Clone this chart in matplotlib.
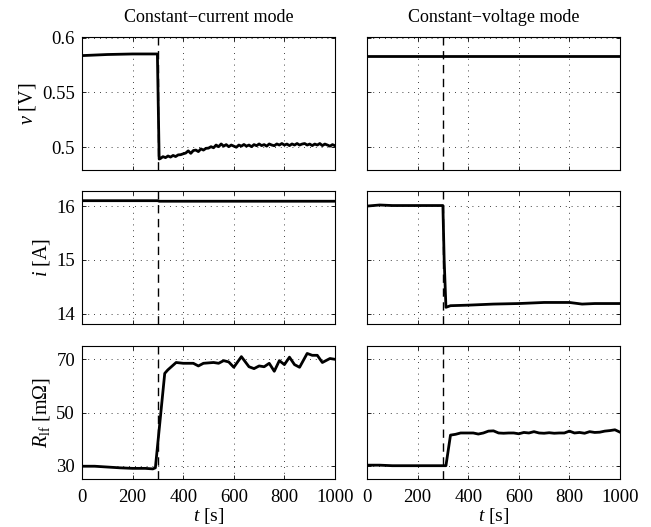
import numpy as np
import matplotlib
matplotlib.use("Agg")
import matplotlib.pyplot as plt

plt.rcParams['font.family'] = ['Liberation Serif', 'DejaVu Serif']
plt.rcParams['mathtext.fontset'] = 'custom'
plt.rcParams['mathtext.rm'] = 'Liberation Serif'
plt.rcParams['mathtext.it'] = 'Liberation Serif:italic'

# ---------------- data ----------------
col_titles = ["Constant\u2212current mode", "Constant\u2212voltage mode"]
ylabels = [r"$v$ [V]", r"$i$ [A]", r"$R_{\rm lf}$ [m$\Omega$]"]
xlabel = r"$t$ [s]"
step_time = 300
xticks = [0, 200, 400, 600, 800, 1000]
yticks_v = [0.5, 0.55, 0.6]
yticks_i = [14, 15, 16]
yticks_r = [30, 50, 70]

# CC voltage
t_v_cc_pre = [0, 100, 200, 298, 305]
v_cc_pre = [0.5835, 0.5845, 0.585, 0.585, 0.489]
t_v_cc_post = list(range(310, 1001, 10))
v_cc_post = [0.4895, 0.4912, 0.4903, 0.4918, 0.4908, 0.4923, 0.4913, 0.4928, 0.4930, 0.4938,
             0.4945, 0.4965, 0.4942, 0.4968, 0.4972, 0.4958, 0.4983, 0.4972, 0.4988, 0.4990,
             0.5003, 0.4993, 0.5018, 0.5003, 0.5028, 0.5008, 0.5022, 0.5003, 0.5018, 0.5008,
             0.4998, 0.5018, 0.5008, 0.5023, 0.5008, 0.5018, 0.5003, 0.5022, 0.5012, 0.5028,
             0.5013, 0.5022, 0.5008, 0.5028, 0.5018, 0.5012, 0.5028, 0.5018, 0.5032, 0.5018,
             0.5027, 0.5013, 0.5028, 0.5018, 0.5032, 0.5018, 0.5027, 0.5032, 0.5018, 0.5027,
             0.5013, 0.5027, 0.5018, 0.5032, 0.5013, 0.5027, 0.5018, 0.5008, 0.5022, 0.5012]

# CV voltage
t_v_cv = [0, 1000]
v_cv = [0.583, 0.583]

# CC current
t_i_cc = [0, 300, 305, 1000]
i_cc = [16.1, 16.1, 16.09, 16.09]

# CV current
t_i_cv = [0, 50, 100, 200, 300, 305, 312, 330, 400, 500, 600, 700, 800, 850, 900, 1000]
i_cv = [16.0, 16.02, 16.01, 16.01, 16.01, 15.0, 14.12, 14.15, 14.16, 14.18, 14.19, 14.21,
        14.21, 14.18, 14.19, 14.19]

# CC resistance
t_r_cc = [0, 50, 100, 150, 200, 250, 280, 290, 327, 339, 372, 400, 440, 460, 480, 520, 540,
          560, 580, 600, 630, 660, 680, 700, 720, 740, 760, 780, 800, 820, 840, 860, 890,
          910, 930, 950, 980, 1000]
r_cc = [29.8, 29.8, 29.5, 29.2, 29.0, 29.0, 28.8, 29.2, 64.7, 66.0, 68.8, 68.5, 68.5, 67.5,
        68.5, 68.8, 68.5, 69.5, 69.0, 67.0, 71.0, 67.2, 66.5, 67.5, 67.2, 68.5, 65.5, 69.5,
        68.0, 70.8, 68.0, 67.0, 72.2, 71.5, 71.5, 68.8, 70.3, 70.0]

# CV resistance
t_r_cv = [0, 50, 100, 150, 200, 250, 300, 312, 330, 350, 370, 400, 420, 440, 460, 480, 500,
          520, 540, 560, 580, 600, 620, 640, 660, 680, 700, 720, 740, 760, 780, 800, 820,
          840, 860, 880, 900, 920, 940, 960, 980, 1000]
r_cv = [30.2, 30.2, 30.0, 30.0, 30.0, 30.0, 30.0, 30.0, 41.5, 41.8, 42.3, 42.3, 42.3, 41.9,
        42.3, 43.0, 43.1, 42.3, 42.2, 42.3, 42.3, 42.0, 42.5, 42.3, 42.8, 42.3, 42.2, 42.4,
        42.2, 42.3, 42.3, 43.0, 42.3, 42.5, 42.2, 42.8, 42.5, 42.6, 43.0, 43.2, 43.5, 42.6]

# ---------------- figure ----------------
W, H = 651, 527
fig = plt.figure(figsize=(W / 100, H / 100), dpi=100)

lefts = [82, 367]
width = 253
rows = [(37, 170), (191, 324), (346, 479)]
ylims = [(0.479, 0.6005), (13.81, 16.28), (25.0, 75.0)]
yticks_all = [yticks_v, yticks_i, yticks_r]
ytl = [["0.5", "0.55", "0.6"], ["14", "15", "16"], ["30", "50", "70"]]

series = [
    [[(t_v_cc_pre + t_v_cc_post, v_cc_pre + v_cc_post)], [(t_v_cv, v_cv)]],
    [[(t_i_cc, i_cc)], [(t_i_cv, i_cv)]],
    [[(t_r_cc, r_cc)], [(t_r_cv, r_cv)]],
]

fs = 13.5
for r, (top, bot) in enumerate(rows):
    for c in range(2):
        ax = fig.add_axes([lefts[c] / W, 1 - bot / H, width / W, (bot - top) / H])
        for (tt, yy) in series[r][c]:
            ax.plot(tt, yy, color='black', lw=2.0, zorder=3)
        ax.axvline(step_time, color='black', lw=1.0, dashes=(6, 4), zorder=2)
        ax.set_xlim(0, 1000)
        ax.set_ylim(*ylims[r])
        ax.set_xticks(xticks)
        ax.set_yticks(yticks_all[r])
        ax.grid(True, color='black', linestyle=(0, (1, 6)), lw=0.6)
        ax.tick_params(direction='in', length=3, width=0.6, top=True, right=True,
                       labelsize=fs, pad=5)
        ax.tick_params(axis='x', pad=7)
        for s in ax.spines.values():
            s.set_linewidth(0.8)
        if c == 0:
            ax.set_yticklabels(ytl[r])
            ax.set_ylabel(ylabels[r], fontsize=fs + 1, labelpad=3)
        else:
            ax.set_yticklabels([])
        if r == 2:
            ax.set_xticklabels([str(x) for x in xticks])
            ax.set_xlabel(xlabel, fontsize=fs + 0.5, labelpad=0)
        else:
            ax.set_xticklabels([])
        if r == 0:
            ax.set_title(col_titles[c], fontsize=13, pad=11)

fig.savefig("out.png", dpi=100)
